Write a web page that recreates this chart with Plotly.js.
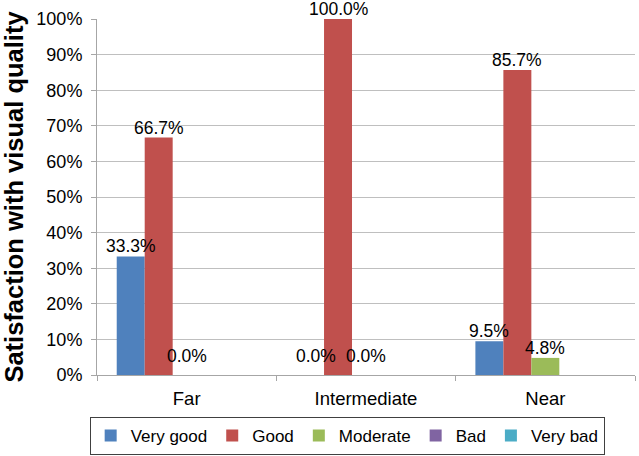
<!DOCTYPE html>
<html>
<head>
<meta charset="utf-8">
<script src="https://cdn.plot.ly/plotly-3.0.1.min.js"></script>
<style>html,body{margin:0;padding:0;background:#fff;}#chart{width:639px;height:456px;}</style>
</head>
<body>
<div id="chart"></div>
<script>
var categories = ["Far", "Intermediate", "Near"];
var seriesNames = ["Very good", "Good", "Moderate", "Bad", "Very bad"];
var veryGood = [33.3, 0.0, 9.5];
var good = [66.7, 100.0, 85.7];
var moderate = [0.0, 0.0, 4.8];
var bad = [0, 0, 0];
var veryBad = [0, 0, 0];
var showLabels = [true, true, true, false, false];
var colors = ["#4F81BD", "#C0504D", "#9BBB59", "#8064A2", "#4BACC6"];
var yTickVals = [0, 10, 20, 30, 40, 50, 60, 70, 80, 90, 100];

var allValues = [veryGood, good, moderate, bad, veryBad];
var font = "Liberation Sans, Arial, sans-serif";

var W = 639, H = 456;
var margin = {l: 97, r: 4, t: 19, b: 81, autoexpand: false};
var bargap = 0.22;
var nSeries = allValues.length;
var plotW = W - margin.l - margin.r;
var barPx = plotW / categories.length * (1 - bargap) / nSeries;

var traces = allValues.map(function (vals, i) {
  return {
    type: "bar",
    name: seriesNames[i],
    x: categories,
    y: vals,
    marker: {color: colors[i]},
    cliponaxis: false,
    hoverinfo: "none"
  };
});

// data labels placed over each bar (offset by the bar's slot in its group)
var annotations = [];
allValues.forEach(function (vals, i) {
  if (!showLabels[i]) return;
  vals.forEach(function (v, j) {
    var shiftX = (i - (nSeries - 1) / 2) * barPx;
    if (v === 0 && i === 0) shiftX += 6;
    annotations.push({
      x: categories[j], y: v, xref: "x", yref: "y",
      text: v.toFixed(1) + "%",
      showarrow: false,
      xanchor: "center", yanchor: "bottom",
      xshift: shiftX,
      yshift: v === 0 ? 8 : -1,
      borderpad: 0,
      font: {family: font, size: 17.5, color: "#000"}
    });
  });
});

var layout = {
  width: W,
  height: H,
  margin: margin,
  paper_bgcolor: "#fff",
  plot_bgcolor: "#fff",
  barmode: "group",
  bargap: bargap,
  bargroupgap: 0,
  font: {family: font, color: "#000"},
  showlegend: true,
  annotations: annotations,
  legend: {
    orientation: "h",
    x: 0.465, xanchor: "center",
    y: -0.118, yanchor: "top",
    bordercolor: "#404040", borderwidth: 1,
    font: {family: font, size: 17, color: "#000"},
    traceorder: "normal",
    itemwidth: 20
  },
  xaxis: {
    type: "category",
    showline: true, linecolor: "#a6a6a6", linewidth: 1,
    ticks: "outside", tickson: "boundaries", ticklen: 5, tickcolor: "#a6a6a6",
    tickfont: {family: font, size: 18.5, color: "#000"},
    ticklabelstandoff: 7,
    showgrid: false,
    zeroline: false
  },
  yaxis: {
    range: [0, 100],
    tickvals: yTickVals,
    ticktext: yTickVals.map(function (v) { return v + "%"; }),
    showline: true, linecolor: "#a6a6a6", linewidth: 1,
    ticks: "outside", ticklen: 5, tickcolor: "#a6a6a6",
    ticklabelstandoff: 5,
    showgrid: true, gridcolor: "#bfbfbf", gridwidth: 1,
    zeroline: false,
    tickfont: {family: font, size: 18, color: "#000"},
    title: {text: "<b>Satisfaction with visual quality</b>", font: {family: font, size: 25.5, color: "#000"}, standoff: 5}
  }
};

Plotly.newPlot("chart", traces, layout, {displayModeBar: false, staticPlot: true});
</script>
</body>
</html>
